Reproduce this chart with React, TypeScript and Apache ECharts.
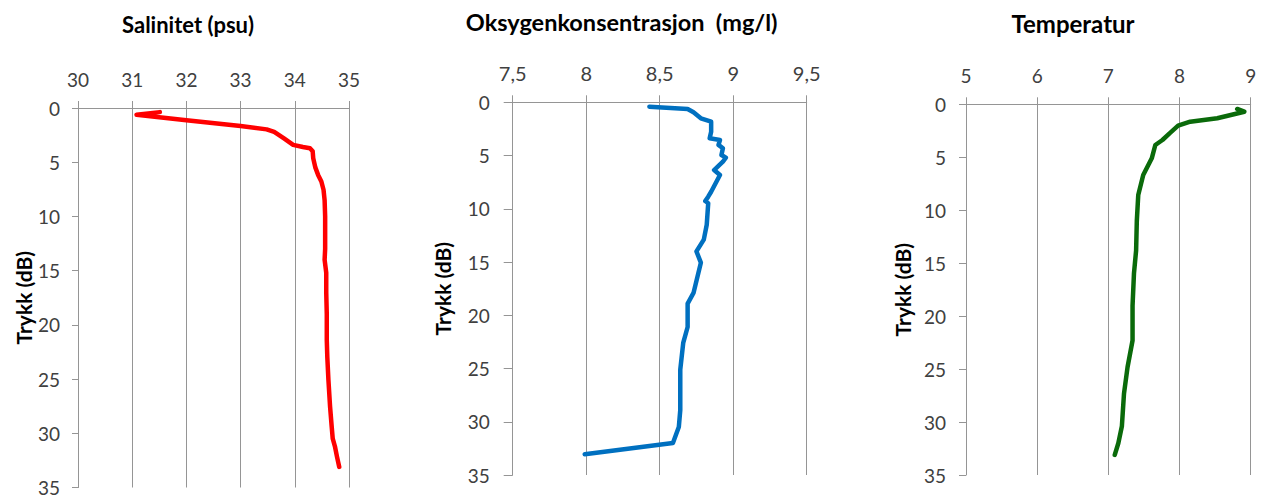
import React, { useEffect, useRef } from "react";
import * as echarts from "echarts";

// Salinity profile
const salDepth = [0.38, 0.62, 1.12, 1.66, 1.97, 2.2, 2.8, 3.4, 3.6, 3.72, 4.0, 4.63, 5.5, 6.17, 6.78, 7.54, 8.5, 10, 11.5, 13.0, 14.0, 15.2, 17, 19, 21.4, 23, 25.05, 27.5, 29.35, 30.5, 31.2, 32.2, 33.1];
const salinity = [31.51, 31.08, 32.0, 33.0, 33.48, 33.62, 33.8, 33.97, 34.15, 34.28, 34.33, 34.34, 34.38, 34.43, 34.49, 34.53, 34.55, 34.56, 34.56, 34.56, 34.55, 34.58, 34.58, 34.59, 34.59, 34.6, 34.62, 34.65, 34.68, 34.7, 34.74, 34.78, 34.82];

// Oxygen profile
const oxyDepth = [0.41, 0.63, 0.94, 1.5, 1.82, 2.76, 3.38, 3.54, 4.0, 4.32, 4.95, 5.2, 5.58, 6.36, 6.83, 8.4, 8.86, 9.27, 9.48, 11.5, 12.9, 14.0, 15.06, 17.9, 18.9, 21.1, 22.6, 25.1, 28.9, 30.5, 32.0, 33.05];
const oxygen = [8.43, 8.69, 8.73, 8.78, 8.85, 8.85, 8.84, 8.91, 8.9, 8.93, 8.92, 8.95, 8.93, 8.87, 8.91, 8.85, 8.83, 8.81, 8.83, 8.82, 8.80, 8.75, 8.78, 8.73, 8.69, 8.69, 8.66, 8.64, 8.64, 8.63, 8.59, 7.99];

// Temperature profile
const tempDepth = [0.44, 0.7, 1.32, 1.64, 2.02, 2.74, 3.37, 3.84, 5.1, 6.68, 8.57, 11, 13.8, 15.96, 19, 22.3, 24.8, 27.3, 30.4, 32.0, 33.1];
const temperature = [8.81, 8.91, 8.53, 8.15, 7.98, 7.86, 7.76, 7.66, 7.61, 7.49, 7.42, 7.4, 7.39, 7.36, 7.34, 7.34, 7.27, 7.22, 7.19, 7.14, 7.09];

const titles = ["Salinitet (psu)", "Oksygenkonsentrasjon  (mg/l)", "Temperatur"];
const yAxisTitle = "Trykk (dB)";
const xRanges = [
  { min: 30, max: 35, interval: 1 },
  { min: 7.5, max: 9.5, interval: 0.5 },
  { min: 5, max: 9, interval: 1 },
];
const depthMin = 0;
const depthMax = 35;
const depthInterval = 5;

const FONT = "Lato, 'Open Sans', sans-serif";
const GRID_COLOR = "#959595";
const LABEL_COLOR = "#404040";

export default function App() {
  const ref = useRef<HTMLDivElement>(null);

  useEffect(() => {
    if (!ref.current) return;
    const chart = echarts.init(ref.current, null, { renderer: "svg" });

    const grids = [
      { left: 78, top: 108, width: 271, height: 380.5 },
      { left: 512.7, top: 102.3, width: 294, height: 372.7 },
      { left: 966, top: 104.3, width: 284.7, height: 370.7 },
    ];
    const yLabelMargins = [18, 23, 20];
    const yNameGaps = [42, 60, 53];
    const yTickLens = [6, 9, 7];
    const xLabelSizes = [19, 20, 19];
    const titlePos = [
      { x: 188, y: 24, size: 22 },
      { x: 621.7, y: 22, size: 23.5 },
      { x: 1073, y: 23.5, size: 24 },
    ];

    const series = [
      { x: salinity, y: salDepth, color: "#ff0000" },
      { x: oxygen, y: oxyDepth, color: "#0070c0" },
      { x: temperature, y: tempDepth, color: "#0a6a0a" },
    ];

    const option: any = {
      animation: false,
      backgroundColor: "#ffffff",
      grid: grids.map((g) => ({ ...g, containLabel: false })),
      xAxis: xRanges.map((r, i) => ({
        type: "value",
        gridIndex: i,
        position: "top",
        min: r.min,
        max: r.max,
        interval: r.interval,
        axisLine: { show: true, onZero: false, lineStyle: { color: GRID_COLOR, width: 1 } },
        axisTick: { show: true, inside: false, length: 7, lineStyle: { color: GRID_COLOR } },
        splitLine: { show: true, lineStyle: { color: GRID_COLOR, width: 1 } },
        axisLabel: {
          margin: 19,
          color: LABEL_COLOR,
          fontFamily: FONT,
          fontSize: xLabelSizes[i],
          formatter: (v: number) => String(v).replace(".", ","),
        },
      })),
      yAxis: grids.map((_, i) => ({
        type: "value",
        gridIndex: i,
        inverse: true,
        min: depthMin,
        max: depthMax,
        interval: depthInterval,
        name: yAxisTitle,
        nameLocation: "middle",
        nameRotate: 90,
        nameGap: yNameGaps[i],
        nameTextStyle: { fontFamily: FONT, fontWeight: "bold", fontSize: 21, color: "#000" },
        axisLine: { show: true, onZero: false, lineStyle: { color: GRID_COLOR, width: 1 } },
        axisTick: { show: true, inside: false, length: yTickLens[i], lineStyle: { color: GRID_COLOR } },
        splitLine: { show: false },
        axisLabel: { margin: yLabelMargins[i], color: LABEL_COLOR, fontFamily: FONT, fontSize: 19 },
      })),
      series: series.map((s, i) => ({
        type: "line",
        xAxisIndex: i,
        yAxisIndex: i,
        data: s.x.map((v, k) => [v, s.y[k]]),
        showSymbol: false,
        symbol: "none",
        smooth: false,
        lineStyle: { color: s.color, width: 4.5, cap: "round", join: "round" },
        itemStyle: { color: s.color },
      })),
      graphic: titles.map((t, i) => ({
        type: "text",
        x: titlePos[i].x,
        y: titlePos[i].y,
        style: {
          text: t,
          fontFamily: FONT,
          fontWeight: "bold",
          fontSize: titlePos[i].size,
          fill: "#000",
          align: "center",
          verticalAlign: "middle",
        },
      })),
    };

    chart.setOption(option);
    return () => chart.dispose();
  }, []);

  return (
    <div
      ref={ref}
      style={{ position: "absolute", left: 0, top: 0, width: 1269, height: 497, background: "#fff" }}
    />
  );
}
